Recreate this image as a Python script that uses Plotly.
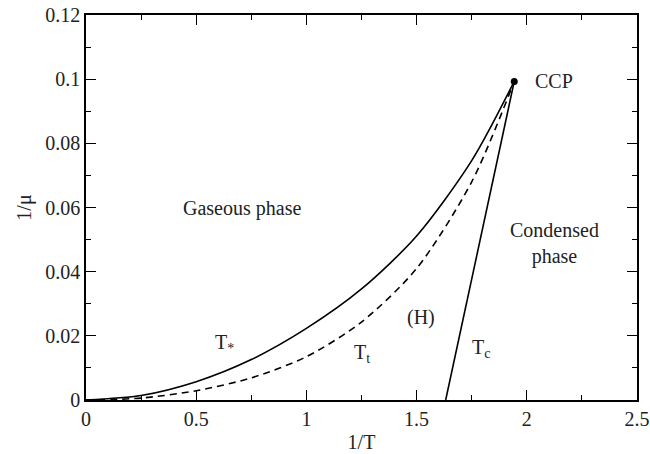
import plotly.graph_objects as go

# T* boundary (solid)
tstar_x = [0.0, 0.25, 0.5, 0.75, 1.0, 1.25, 1.5, 1.75, 1.943]
tstar_y = [0.0, 0.0014, 0.0057, 0.0126, 0.0223, 0.0346, 0.0511, 0.0746, 0.0993]

# Tt boundary (dashed)
tt_x = [0.0, 0.25, 0.5, 0.75, 1.0, 1.25, 1.5, 1.75, 1.943]
tt_y = [0.0, 0.0006, 0.0029, 0.0069, 0.0135, 0.0243, 0.0410, 0.0680, 0.0993]

# Tc boundary (straight solid)
tc_x = [1.632, 1.943]
tc_y = [0.0, 0.0993]

# critical condensation point
ccp_x = [1.943]
ccp_y = [0.0993]

x_ticks = [0, 0.5, 1, 1.5, 2, 2.5]
x_labels = ["0", "0.5", "1", "1.5", "2", "2.5"]
y_ticks = [0, 0.02, 0.04, 0.06, 0.08, 0.1, 0.12]
y_labels = ["0", "0.02", "0.04", "0.06", "0.08", "0.1", "0.12"]

FONT = "Liberation Serif"
INK = "#222222"

fig = go.Figure()
fig.add_trace(go.Scatter(x=tstar_x, y=tstar_y, mode="lines",
                         line=dict(color="black", width=1.6, shape="spline", smoothing=0.8)))
fig.add_trace(go.Scatter(x=tt_x, y=tt_y, mode="lines",
                         line=dict(color="black", width=1.6, dash="7px,5px", shape="spline", smoothing=0.8)))
fig.add_trace(go.Scatter(x=tc_x, y=tc_y, mode="lines", line=dict(color="black", width=1.6)))
fig.add_trace(go.Scatter(x=ccp_x, y=ccp_y, mode="markers", marker=dict(color="black", size=7)))

labels = [
    (0.71, 0.0597, "Gaseous phase"),
    (2.125, 0.0488, "Condensed<br>phase"),
    (2.125, 0.0993, "CCP"),
    (1.52, 0.0257, "(H)"),
    (0.63, 0.0175, "T<sub>*</sub>"),
    (1.25, 0.0145, "T<sub>t</sub>"),
    (1.79, 0.0160, "T<sub>c</sub>"),
]
for lx, ly, txt in labels:
    fig.add_annotation(x=lx, y=ly, text=txt, showarrow=False,
                       font=dict(family=FONT, size=20, color=INK))

axis_common = dict(
    showline=True, linecolor="black", linewidth=1.6, mirror="allticks",
    ticks="inside", ticklen=10, tickwidth=1.2, tickcolor="black",
    showgrid=False, zeroline=False, automargin=False,
    tickfont=dict(family=FONT, size=20, color=INK),
    title_font=dict(family=FONT, size=20, color=INK),
)

fig.update_xaxes(range=[0, 2.5], tickvals=x_ticks, ticktext=x_labels,
                 minor=dict(ticks="inside", ticklen=5, dtick=0.25, tickwidth=1.2, tickcolor="black"),
                 title_text="1/T", title_standoff=6, **axis_common)
fig.update_yaxes(range=[0, 0.12], tickvals=y_ticks, ticktext=y_labels,
                 minor=dict(ticks="inside", ticklen=5, dtick=0.01, tickwidth=1.2, tickcolor="black"),
                 title_text="1/μ", title_standoff=8, **axis_common)

fig.update_layout(
    width=650, height=454,
    margin=dict(l=86, r=13, t=15, b=54),
    plot_bgcolor="white", paper_bgcolor="white",
    showlegend=False,
    font=dict(family=FONT, color=INK),
)

fig.write_html("out.html")
